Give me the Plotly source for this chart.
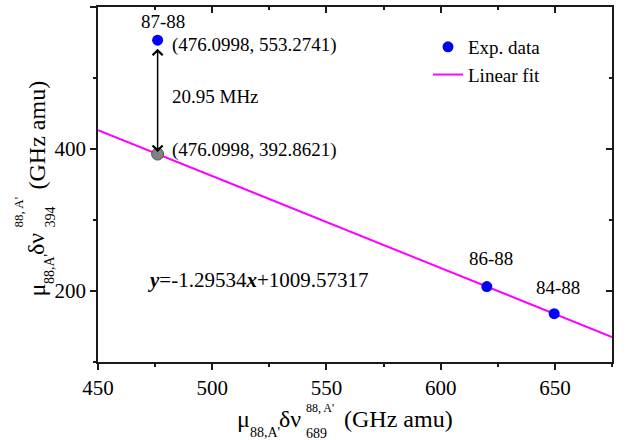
import plotly.graph_objects as go

# ---- data ----
exp_x = [476.0998, 620.2, 649.7]
exp_y = [553.2741, 206.2, 168.0]
exp_labels = ["87-88", "86-88", "84-88"]
fit_point_x = [476.0998]
fit_point_y = [392.8621]
slope = -1.29534
intercept = 1009.57317
fit_x = [450, 675]
fit_y = [slope * v + intercept for v in fit_x]
x_ticks = [450, 500, 550, 600, 650]
y_ticks = [200, 400, 600]

FONT = "Liberation Serif, 'Times New Roman', Times, serif"
W, H = 632, 440
L, R, T, B = 98, 20, 7, 78
PW, PH = W - L - R, H - T - B


def pxx(px):
    return (px - L) / PW


def pxy(py):
    return (T + PH - py) / PH


fig = go.Figure()

fig.add_trace(go.Scatter(x=fit_x, y=fit_y, mode="lines", name="Linear fit",
                         line=dict(color="#FF00FF", width=2), hoverinfo="skip"))
fig.add_trace(go.Scatter(x=fit_point_x, y=fit_point_y, mode="markers", showlegend=False,
                         marker=dict(color="#808080", size=12,
                                     line=dict(color="#555555", width=1))))
fig.add_trace(go.Scatter(x=exp_x, y=exp_y, mode="markers", name="Exp. data",
                         marker=dict(color="#0000FF", size=11, line=dict(width=0))))
# dummy trace for mirror axes
fig.add_trace(go.Scatter(x=fit_x, y=fit_y, xaxis="x2", yaxis="y2", mode="lines",
                         line=dict(width=0), opacity=0, showlegend=False, hoverinfo="skip"))

fig.data[0].legendrank = 2
fig.data[2].legendrank = 1

axis_common = dict(showline=True, linecolor="#1a1a1a", linewidth=1.5, showgrid=False,
                   zeroline=False, tickcolor="#1a1a1a", tickwidth=1.5,
                   tickfont=dict(family=FONT, size=21, color="black"))

fig.update_layout(
    width=W, height=H,
    margin=dict(l=L, r=R, t=T, b=B),
    paper_bgcolor="white", plot_bgcolor="white",
    font=dict(family=FONT, color="black"),
    showlegend=True,
    legend=dict(x=pxx(428), y=pxy(28), xanchor="left", yanchor="top",
                bgcolor="rgba(0,0,0,0)", font=dict(family=FONT, size=19, color="black"),
                tracegroupgap=0),
    xaxis=dict(range=[450, 675], tickvals=x_ticks, ticks="outside", ticklen=6,
               minor=dict(ticks="outside", ticklen=3, dtick=25, tick0=450,
                          tickcolor="#1a1a1a", tickwidth=1.5),
               **axis_common),
    yaxis=dict(range=[100, 600], tickvals=y_ticks, ticks="outside", ticklen=6,
               minor=dict(ticks="outside", ticklen=3, dtick=100, tick0=100,
                          tickcolor="#1a1a1a", tickwidth=1.5),
               **axis_common),
    xaxis2=dict(range=[450, 675], overlaying="x", side="top", tickvals=x_ticks,
                ticks="inside", ticklen=6, showticklabels=False,
                minor=dict(ticks="inside", ticklen=3, dtick=25, tick0=450,
                           tickcolor="#1a1a1a", tickwidth=1.5),
                **axis_common),
    yaxis2=dict(range=[100, 600], overlaying="y", side="right", tickvals=y_ticks,
                ticks="inside", ticklen=6, showticklabels=False,
                minor=dict(ticks="inside", ticklen=3, dtick=100, tick0=100,
                           tickcolor="#1a1a1a", tickwidth=1.5),
                **axis_common),
)

ann = []
label_shift = [(5, 19), (4, 28), (4, 26)]
for xv, yv, lab, (dx, dy) in zip(exp_x, exp_y, exp_labels, label_shift):
    ann.append(dict(x=xv, y=yv, xref="x", yref="y", text=lab, showarrow=False,
                    xshift=dx, yshift=dy, font=dict(family=FONT, size=19)))
ann.append(dict(x=exp_x[0], y=exp_y[0], xref="x", yref="y",
                text=f"({exp_x[0]:.4f}, {exp_y[0]:.4f})", showarrow=False,
                xanchor="left", xshift=12, yshift=-5, font=dict(family=FONT, size=19)))
ann.append(dict(x=fit_point_x[0], y=fit_point_y[0], xref="x", yref="y",
                text=f"({fit_point_x[0]:.4f}, {fit_point_y[0]:.4f})", showarrow=False,
                xanchor="left", xshift=12, yshift=4, font=dict(family=FONT, size=19)))
ann.append(dict(x=fit_point_x[0], y=fit_point_y[0], xref="x", yref="y",
                ax=exp_x[0], ay=exp_y[0], axref="x", ayref="y", text="",
                showarrow=True, arrowhead=4, startarrowhead=4, arrowside="end+start",
                arrowwidth=1.5, arrowsize=1.3, startarrowsize=1.3,
                standoff=2, startstandoff=7, arrowcolor="black"))
ann.append(dict(x=pxx(170), y=pxy(96), xref="paper", yref="paper", text="20.95 MHz",
                showarrow=False, xanchor="left", yanchor="middle",
                font=dict(family=FONT, size=19)))
ann.append(dict(x=pxx(145), y=pxy(280), xref="paper", yref="paper",
                text="<b><i>y</i></b>=-1.29534<b><i>x</i></b>+1009.57317",
                showarrow=False, xanchor="left", yanchor="middle",
                font=dict(family=FONT, size=21)))

# x-axis title pieces
X0 = 236
xt = [("μ", 0, 419, 24), ("88,A'", 13, 432, 14), ("δν", 42, 419, 24),
      ("88, A'", 69, 408, 12), ("689", 69, 433, 14), ("(GHz amu)", 107, 419, 24)]
for txt, off, py, fs in xt:
    ann.append(dict(x=pxx(X0 + off), y=pxy(py), xref="paper", yref="paper", text=txt,
                    showarrow=False, xanchor="left", yanchor="middle", borderpad=0,
                    font=dict(family=FONT, size=fs)))
# y-axis title pieces (rotated)
Y0 = 298
yt = [("μ", 0, 36, 24), ("88,A'", 13, 49, 14), ("δν", 42, 36, 24),
      ("88, A'", 69, 18, 13), ("394", 69, 50, 14), ("(GHz amu)", 107, 36, 24)]
for txt, off, px, fs in yt:
    ann.append(dict(x=pxx(px), y=pxy(Y0 - off), xref="paper", yref="paper", text=txt,
                    showarrow=False, xanchor="center", yanchor="bottom", textangle=-90,
                    borderpad=0, font=dict(family=FONT, size=fs)))

fig.update_layout(annotations=ann)
fig.write_html("out.html", config={"displayModeBar": False},
               post_script="document.body.style.margin='0';")
